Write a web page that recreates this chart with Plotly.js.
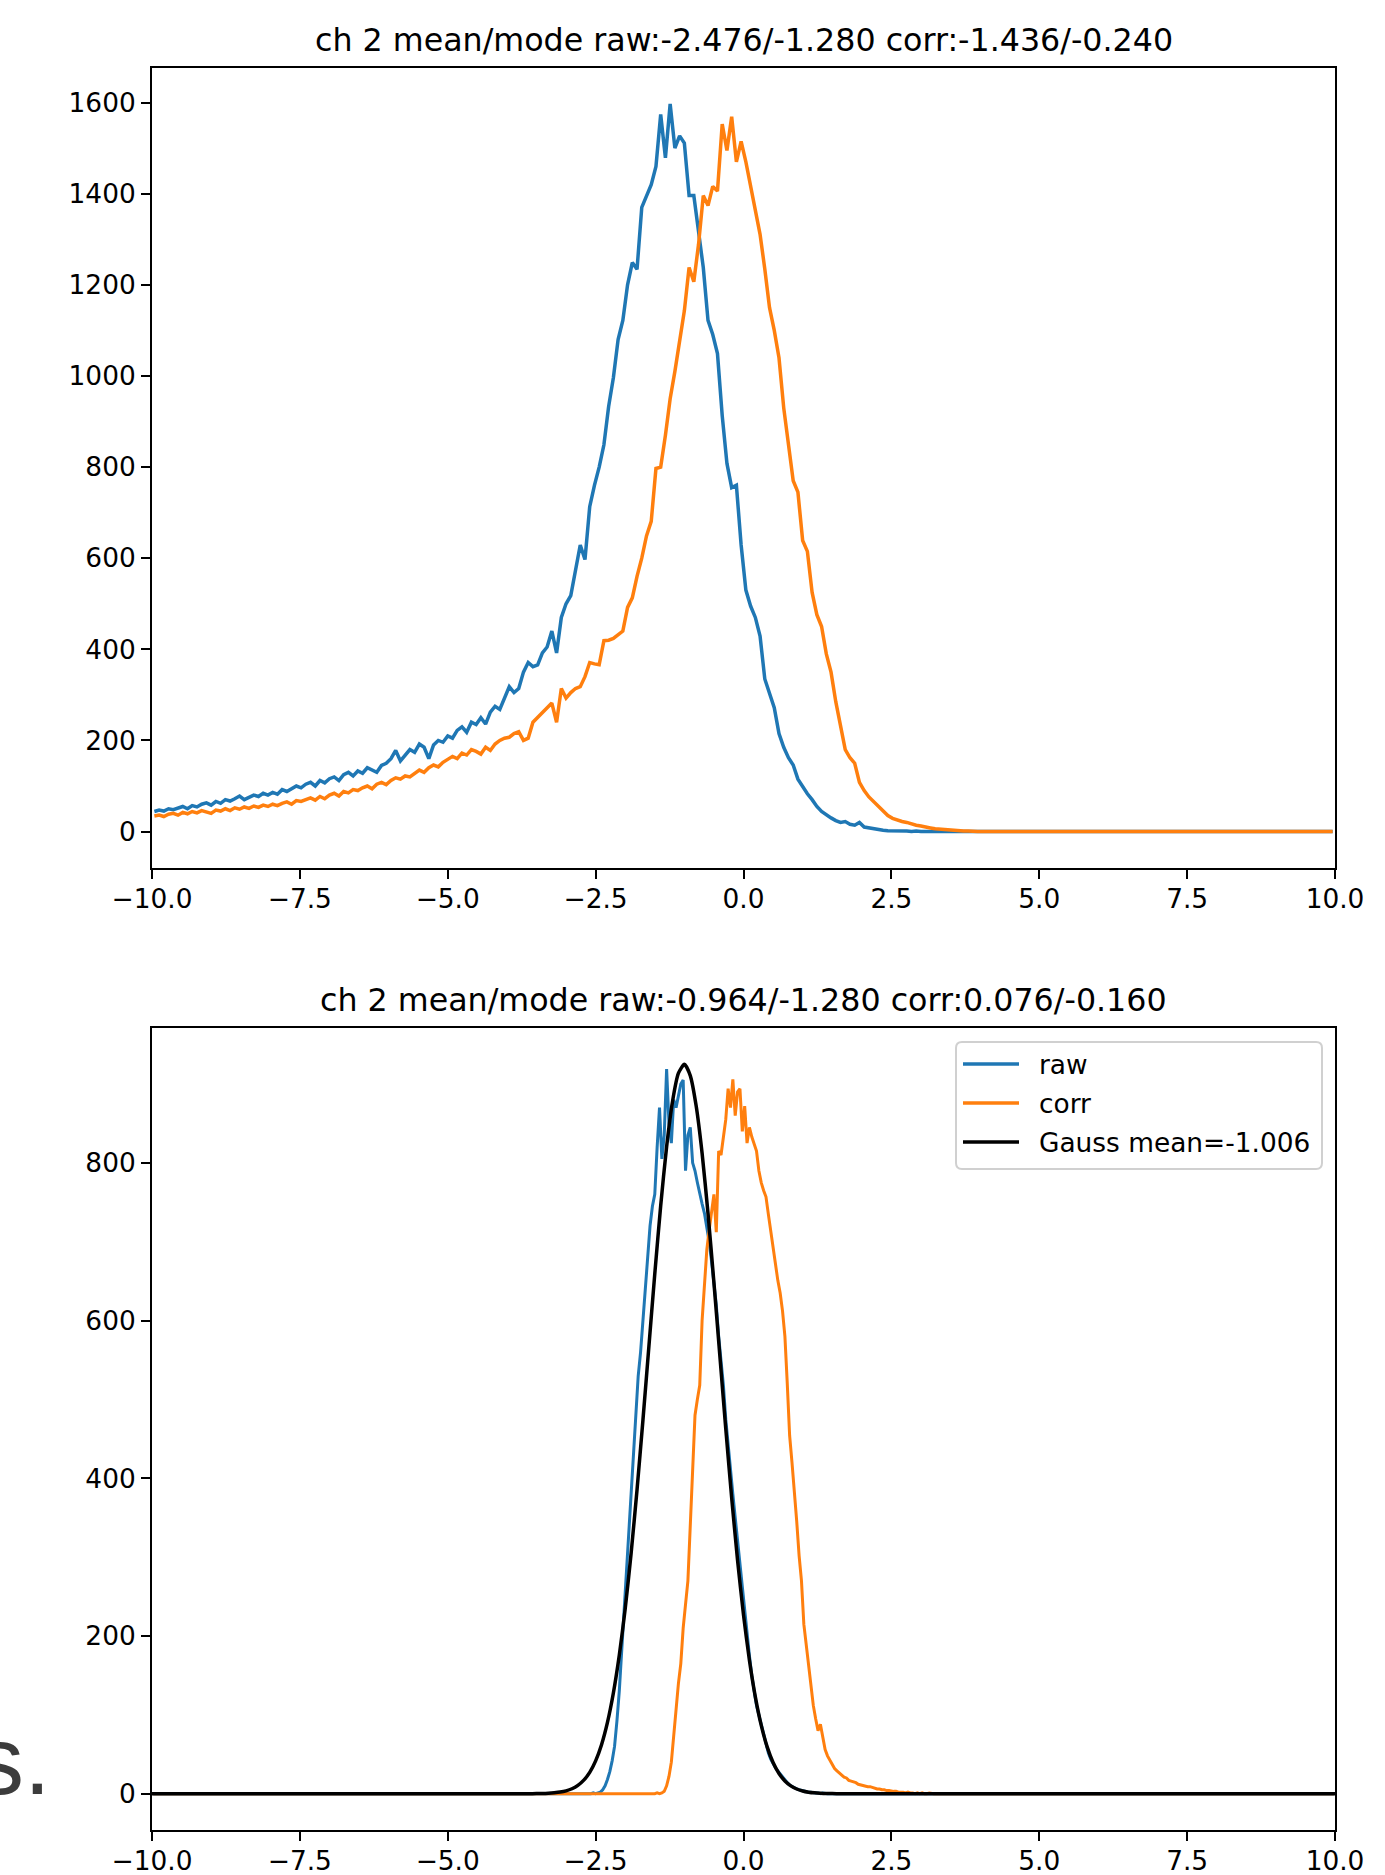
<!DOCTYPE html>
<html>
<head>
<meta charset="utf-8">
<script src="https://cdn.plot.ly/plotly-3.0.1.min.js"></script>
<style>
html,body{margin:0;padding:0;background:#ffffff;}
#chart{width:1385px;height:1875px;}
</style>
</head>
<body>
<div id="chart"></div>
<script>
// ---------------- data ----------------
const topTitle = 'ch 2 mean/mode raw:-2.476/-1.280 corr:-1.436/-0.240';
const botTitle = 'ch 2 mean/mode raw:-0.964/-1.280 corr:0.076/-0.160';
const seriesNames = ['raw', 'corr', 'Gauss mean=-1.006'];

const xTickVals = [-10, -7.5, -5, -2.5, 0, 2.5, 5, 7.5, 10];
const xTickText = ['\u221210.0', '\u22127.5', '\u22125.0', '\u22122.5', '0.0', '2.5', '5.0', '7.5', '10.0'];
const topYTicks = [0, 200, 400, 600, 800, 1000, 1200, 1400, 1600];
const botYTicks = [0, 200, 400, 600, 800];

// histogram bins (top: 0.08 wide, bottom: 0.04 wide), range -10..10
const topBinStart = -10, topBinWidth = 0.08;
const botBinStart = -10, botBinWidth = 0.04;

// top panel counts, one row = 2 units of x
const topRaw = [
44,47,45,50,48,52,55,50,57,54,60,63,58,66,62,70,67,72,78,70,75,80,77,84,80,
86,82,92,88,95,100,96,104,108,100,112,107,116,120,112,125,130,122,133,128,140,136,130,145,150,
160,178,155,168,180,174,192,185,160,190,200,196,210,205,222,230,218,240,235,250,236,262,275,268,292,
318,305,314,350,371,362,366,392,405,440,392,470,500,518,571,629,597,713,760,800,849,933,996,1080,1122,
1200,1249,1234,1370,1396,1420,1460,1574,1479,1597,1500,1527,1511,1396,1396,1311,1238,1122,1091,1049,913,808,755,760,629,
530,495,470,429,335,303,272,215,185,162,146,115,98,83,70,55,44,36,30,24,20,22,16,14,20,
10,8,6,4,3,2,2,1,1,1,0,1,0,0,0,0,0,0,0,0,0,0,0,0,0,
0,0,0,0,0,0,0,0,0,0,0,0,0,0,0,0,0,0,0,0,0,0,0,0,0,
0,0,0,0,0,0,0,0,0,0,0,0,0,0,0,0,0,0,0,0,0,0,0,0,0,
0,0,0,0,0,0,0,0,0,0,0,0,0,0,0,0,0,0,0,0,0,0,0,0,0
];
const topCorr = [
34,36,33,38,40,36,42,39,44,41,46,43,40,47,45,50,46,52,49,54,51,56,53,58,55,
60,57,62,65,60,68,66,70,74,69,77,72,80,84,78,88,85,92,90,96,100,94,104,108,103,
112,118,115,122,120,128,135,130,140,146,142,152,158,165,160,172,168,180,176,170,185,178,192,200,205,
207,215,219,200,205,240,250,261,270,282,240,314,293,305,314,318,340,371,368,366,419,420,424,432,440,
492,513,560,600,649,681,797,800,870,950,1010,1080,1143,1238,1207,1289,1396,1374,1416,1406,1553,1495,1569,1470,1515,
1470,1420,1370,1311,1235,1150,1100,1040,930,850,770,745,639,615,525,476,450,390,350,285,230,180,162,150,108,
90,76,66,55,44,35,29,25,22,20,16,14,12,9,8,6,5,4,3,2,2,1,1,0,0,
0,0,0,0,0,0,0,0,0,0,0,0,0,0,0,0,0,0,0,0,0,0,0,0,0,
0,0,0,0,0,0,0,0,0,0,0,0,0,0,0,0,0,0,0,0,0,0,0,0,0,
0,0,0,0,0,0,0,0,0,0,0,0,0,0,0,0,0,0,0,0,0,0,0,0,0
];

// bottom panel counts, one row = 1 unit of x
const botRaw = [
0,0,0,0,0,0,0,0,0,0,0,0,0,0,0,0,0,0,0,0,0,0,0,0,0,
0,0,0,0,0,0,0,0,0,0,0,0,0,0,0,0,0,0,0,0,0,0,0,0,0,
0,0,0,0,0,0,0,0,0,0,0,0,0,0,0,0,0,0,0,0,0,0,0,0,0,
0,0,0,0,0,0,0,0,0,0,0,0,0,0,0,0,0,0,0,0,0,0,0,0,0,
0,0,0,0,0,0,0,0,0,0,0,0,0,0,0,0,0,0,0,0,0,0,0,0,0,
0,0,0,0,0,0,0,0,0,0,0,0,0,0,0,0,0,0,0,0,0,0,0,0,0,
0,0,0,0,0,0,0,0,0,0,0,0,0,0,0,0,0,0,0,0,0,0,0,0,0,
0,0,0,0,0,0,0,0,0,0,0,1,0,1,2,5,10,18,28,42,60,92,130,180,230,
290,345,395,440,490,530,560,600,640,690,720,745,760,820,870,805,835,919,850,825,880,870,885,900,905,
790,835,845,800,790,775,760,748,736,720,700,675,650,620,580,550,518,475,440,410,380,350,320,290,260,
235,205,175,150,128,112,100,88,75,62,52,44,38,33,29,25,21,17,14,11,9,7,6,5,4,
3,3,2,2,1,1,1,0,1,0,0,0,0,0,0,0,0,0,0,0,0,0,0,0,0,
0,0,0,0,0,0,0,0,0,0,0,0,0,0,0,0,0,0,0,0,0,0,0,0,0,
0,0,0,0,0,0,0,0,0,0,0,0,0,0,0,0,0,0,0,0,0,0,0,0,0,
0,0,0,0,0,0,0,0,0,0,0,0,0,0,0,0,0,0,0,0,0,0,0,0,0,
0,0,0,0,0,0,0,0,0,0,0,0,0,0,0,0,0,0,0,0,0,0,0,0,0,
0,0,0,0,0,0,0,0,0,0,0,0,0,0,0,0,0,0,0,0,0,0,0,0,0,
0,0,0,0,0,0,0,0,0,0,0,0,0,0,0,0,0,0,0,0,0,0,0,0,0,
0,0,0,0,0,0,0,0,0,0,0,0,0,0,0,0,0,0,0,0,0,0,0,0,0,
0,0,0,0,0,0,0,0,0,0,0,0,0,0,0,0,0,0,0,0,0,0,0,0,0
];
const botCorr = [
0,0,0,0,0,0,0,0,0,0,0,0,0,0,0,0,0,0,0,0,0,0,0,0,0,
0,0,0,0,0,0,0,0,0,0,0,0,0,0,0,0,0,0,0,0,0,0,0,0,0,
0,0,0,0,0,0,0,0,0,0,0,0,0,0,0,0,0,0,0,0,0,0,0,0,0,
0,0,0,0,0,0,0,0,0,0,0,0,0,0,0,0,0,0,0,0,0,0,0,0,0,
0,0,0,0,0,0,0,0,0,0,0,0,0,0,0,0,0,0,0,0,0,0,0,0,0,
0,0,0,0,0,0,0,0,0,0,0,0,0,0,0,0,0,0,0,0,0,0,0,0,0,
0,0,0,0,0,0,0,0,0,0,0,0,0,0,0,0,0,0,0,0,0,0,0,0,0,
0,0,0,0,0,0,0,0,0,0,0,0,0,0,0,0,0,0,0,0,0,0,0,0,0,
0,0,0,0,0,0,0,0,0,0,0,0,0,1,0,1,3,10,22,40,75,110,140,165,210,
240,270,340,410,480,500,518,600,650,690,715,740,760,712,815,810,835,855,894,870,906,860,890,894,840,
872,825,845,833,825,815,790,775,765,757,735,712,690,672,651,635,612,580,520,454,420,385,345,302,270,
215,190,160,135,112,95,80,88,70,56,48,42,36,32,29,26,24,21,20,17,16,15,14,12,11,
11,10,9,9,8,7,6,6,5,5,4,4,3,3,3,2,2,2,1,2,1,1,0,1,0,
1,0,0,1,0,0,0,0,0,0,0,0,0,0,0,0,0,0,0,0,0,0,0,0,0,
0,0,0,0,0,0,0,0,0,0,0,0,0,0,0,0,0,0,0,0,0,0,0,0,0,
0,0,0,0,0,0,0,0,0,0,0,0,0,0,0,0,0,0,0,0,0,0,0,0,0,
0,0,0,0,0,0,0,0,0,0,0,0,0,0,0,0,0,0,0,0,0,0,0,0,0,
0,0,0,0,0,0,0,0,0,0,0,0,0,0,0,0,0,0,0,0,0,0,0,0,0,
0,0,0,0,0,0,0,0,0,0,0,0,0,0,0,0,0,0,0,0,0,0,0,0,0,
0,0,0,0,0,0,0,0,0,0,0,0,0,0,0,0,0,0,0,0,0,0,0,0,0
];

// fitted Gauss curve
const gaussX = [-10,-3.6,-3.5,-3.4,-3.3,-3.2,-3.1,-3.0,-2.9,-2.8,-2.7,-2.6,-2.5,-2.4,-2.3,-2.2,-2.1,-2.0,-1.9,-1.8,-1.7,-1.6,-1.5,-1.4,-1.3,-1.2,-1.1,-1.0,-0.9,-0.8,-0.7,-0.6,-0.5,-0.4,-0.3,-0.2,-0.1,0.0,0.1,0.2,0.3,0.4,0.5,0.6,0.7,0.8,0.9,1.0,1.1,1.2,1.3,1.4,1.5,1.6,10];
const gaussY = [0,0.1,0.2,0.3,0.6,1.2,2.1,3.7,6.3,10.6,17.2,27.1,41.7,62.2,90.4,127.7,175.5,234.5,304.9,385.4,473.9,566.7,659.2,745.6,820.4,877.9,913.7,925.0,910.7,872.1,812.2,735.8,648.2,555.5,462.9,375.2,295.8,226.8,169.2,122.8,86.6,59.4,39.6,25.7,16.2,10.0,6.0,3.5,2.0,1.1,0.6,0.3,0.15,0.07,0];

// ---------------- drawing ----------------
function binCenters(start, width, n) {
  const out = [];
  for (let i = 0; i < n; i++) out.push(+(start + width * (i + 0.5)).toFixed(4));
  return out;
}
const topX = binCenters(topBinStart, topBinWidth, topRaw.length);
const botX = binCenters(botBinStart, botBinWidth, botRaw.length);

const C_RAW = '#1f77b4', C_CORR = '#ff7f0e', C_GAUSS = '#000000';
const seriesColors = [C_RAW, C_CORR, C_GAUSS];
const FONT = 'DejaVu Sans, Verdana, sans-serif';

const traces = [
  {x: topX, y: topRaw, type: 'scatter', mode: 'lines', name: seriesNames[0], xaxis: 'x', yaxis: 'y',
   line: {color: C_RAW, width: 3.5}, showlegend: false, hoverinfo: 'skip'},
  {x: topX, y: topCorr, type: 'scatter', mode: 'lines', name: seriesNames[1], xaxis: 'x', yaxis: 'y',
   line: {color: C_CORR, width: 3.5}, showlegend: false, hoverinfo: 'skip'},
  {x: botX, y: botRaw, type: 'scatter', mode: 'lines', name: seriesNames[0], xaxis: 'x2', yaxis: 'y2',
   line: {color: C_RAW, width: 3}, showlegend: false, hoverinfo: 'skip'},
  {x: botX, y: botCorr, type: 'scatter', mode: 'lines', name: seriesNames[1], xaxis: 'x2', yaxis: 'y2',
   line: {color: C_CORR, width: 3}, showlegend: false, hoverinfo: 'skip'},
  {x: gaussX, y: gaussY, type: 'scatter', mode: 'lines', name: seriesNames[2], xaxis: 'x2', yaxis: 'y2',
   line: {color: C_GAUSS, width: 3.5, shape: 'spline', smoothing: 0.6}, showlegend: false, hoverinfo: 'skip'}
];

const axisBase = {
  showline: true, linecolor: '#000', linewidth: 2, mirror: true,
  ticks: 'outside', ticklen: 9, tickwidth: 2, tickcolor: '#000',
  showgrid: false, zeroline: false,
  tickfont: {family: FONT, size: 26.4, color: '#000'}
};

// page geometry of the plotting area (pixels) -> paper coordinates
const PL = 152, PR = 1335, PT = 68, PB = 1830;
const px = X => (X - PL) / (PR - PL);
const py = Y => (PB - Y) / (PB - PT);

const topDomain = [py(868), 1];
const botDomain = [0, py(1028)];

// matplotlib-style legend box (upper right of the bottom panel)
const LG = {x0: 956, x1: 1322, y0: 1042, y1: 1169, r: 6, lineX0: 963, lineX1: 1019, textX: 1038, rows: [1064, 1103, 1142]};
function roundedBoxPath(b) {
  const P = (X, Y) => px(X).toFixed(5) + ',' + py(Y).toFixed(5);
  return 'M' + P(b.x0 + b.r, b.y0) + ' L' + P(b.x1 - b.r, b.y0) + ' Q' + P(b.x1, b.y0) + ' ' + P(b.x1, b.y0 + b.r) +
         ' L' + P(b.x1, b.y1 - b.r) + ' Q' + P(b.x1, b.y1) + ' ' + P(b.x1 - b.r, b.y1) +
         ' L' + P(b.x0 + b.r, b.y1) + ' Q' + P(b.x0, b.y1) + ' ' + P(b.x0, b.y1 - b.r) +
         ' L' + P(b.x0, b.y0 + b.r) + ' Q' + P(b.x0, b.y0) + ' ' + P(b.x0 + b.r, b.y0) + ' Z';
}
const shapes = [
  {type: 'path', xref: 'paper', yref: 'paper', path: roundedBoxPath(LG),
   fillcolor: 'rgba(255,255,255,0.8)', line: {color: '#d0d0d0', width: 2}, layer: 'above'}
];
const legendAnn = [];
seriesNames.forEach((nm, i) => {
  shapes.push({type: 'line', xref: 'paper', yref: 'paper', x0: px(LG.lineX0), x1: px(LG.lineX1),
               y0: py(LG.rows[i]), y1: py(LG.rows[i]), line: {color: seriesColors[i], width: 3.5}, layer: 'above'});
  legendAnn.push({text: nm, xref: 'paper', yref: 'paper', x: px(LG.textX), y: py(LG.rows[i]),
                  xanchor: 'left', yanchor: 'middle', showarrow: false, borderpad: 0,
                  font: {family: FONT, size: 26.4, color: '#000'}});
});

const layout = {
  width: 1385, height: 1875,
  margin: {l: PL, r: 1385 - PR, t: PT, b: 1875 - PB, pad: 0},
  paper_bgcolor: '#ffffff', plot_bgcolor: '#ffffff',
  font: {family: FONT, color: '#000'},
  showlegend: false,
  xaxis: Object.assign({}, axisBase, {domain: [0, 1], range: [-10, 10], tickvals: xTickVals, ticktext: xTickText, anchor: 'y', ticklabelstandoff: -3}),
  yaxis: Object.assign({}, axisBase, {domain: topDomain, range: [-80, 1676], tickvals: topYTicks, ticktext: topYTicks.map(String), anchor: 'x'}),
  xaxis2: Object.assign({}, axisBase, {domain: [0, 1], range: [-10, 10], tickvals: xTickVals, ticktext: xTickText, anchor: 'y2', ticklabelstandoff: -3}),
  yaxis2: Object.assign({}, axisBase, {domain: botDomain, range: [-46, 971], tickvals: botYTicks, ticktext: botYTicks.map(String), anchor: 'x2'}),
  shapes: shapes,
  annotations: [
    {text: topTitle, xref: 'paper', yref: 'paper', x: 0.5, y: topDomain[1], xanchor: 'center', yanchor: 'middle',
     yshift: 28, showarrow: false, font: {family: FONT, size: 31.7, color: '#000'}},
    {text: botTitle, xref: 'paper', yref: 'paper', x: 0.5, y: botDomain[1], xanchor: 'center', yanchor: 'middle',
     yshift: 28, showarrow: false, font: {family: FONT, size: 31.7, color: '#000'}},
    // fragment of larger page text visible at the left edge of the reference screenshot
    {text: 's.', xref: 'paper', yref: 'paper', x: px(-26), y: py(1760), xanchor: 'left', yanchor: 'middle',
     showarrow: false, font: {family: 'Liberation Sans, Arial, sans-serif', size: 96, color: '#3c3c3c'}}
  ].concat(legendAnn)
};

Plotly.newPlot('chart', traces, layout, {displayModeBar: false, staticPlot: true});
</script>
</body>
</html>
